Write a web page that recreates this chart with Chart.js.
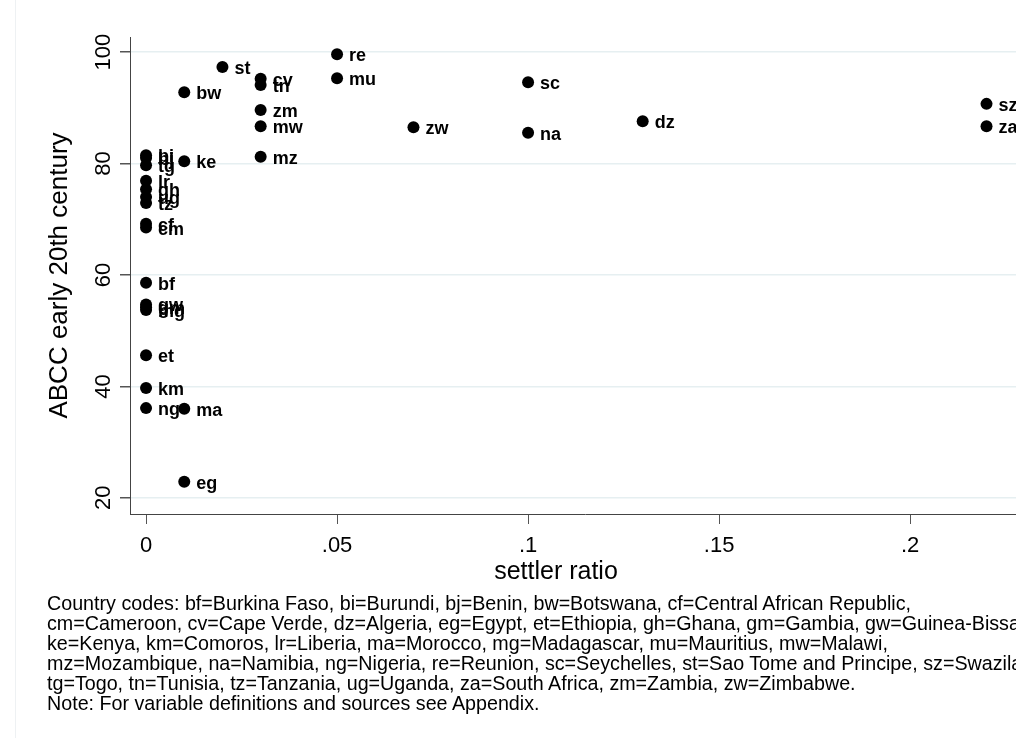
<!DOCTYPE html>
<html>
<head>
<meta charset="utf-8">
<script src="https://cdn.jsdelivr.net/npm/chart.js@4.4.0/dist/chart.umd.min.js"></script>
<style>
  html, body { margin: 0; padding: 0; background: #fff; overflow: hidden; }
  #wrap { position: relative; width: 1016px; height: 738px; overflow: hidden; }
  #chart { position: absolute; left: 0; top: 0; }
  #note {
    position: absolute; left: 47px; top: 593px;
    font: 19.7px "Liberation Sans", Arial, sans-serif; line-height: 20px;
    white-space: nowrap; color: #000;
  }
</style>
</head>
<body>
<div id="wrap">
  <canvas id="chart" width="1100" height="738"></canvas>
  <div id="note">
    Country codes: bf=Burkina Faso, bi=Burundi, bj=Benin, bw=Botswana, cf=Central African Republic,<br>
    cm=Cameroon, cv=Cape Verde, dz=Algeria, eg=Egypt, et=Ethiopia, gh=Ghana, gm=Gambia, gw=Guinea-Bissau,<br>
    ke=Kenya, km=Comoros, lr=Liberia, ma=Morocco, mg=Madagascar, mu=Mauritius, mw=Malawi,<br>
    mz=Mozambique, na=Namibia, ng=Nigeria, re=Reunion, sc=Seychelles, st=Sao Tome and Principe, sz=Swaziland,<br>
    tg=Togo, tn=Tunisia, tz=Tanzania, ug=Uganda, za=South Africa, zm=Zambia, zw=Zimbabwe.<br>
    Note: For variable definitions and sources see Appendix.
  </div>
</div>
<script>
// Data
const codes   = ['bf', 'bi', 'bj', 'bw', 'cf', 'cm', 'cv', 'dz', 'eg', 'et', 'gh', 'gm',
                 'gw', 'ke', 'km', 'lr', 'ma', 'mg', 'mu', 'mw', 'mz', 'na', 'ng', 're',
                 'sc', 'st', 'sz', 'tg', 'tn', 'tz', 'ug', 'za', 'zm', 'zw'];
const settler = [0, 0, 0, 0.01, 0, 0, 0.03, 0.13, 0.01, 0, 0, 0,
                 0, 0.01, 0, 0, 0.01, 0, 0.05, 0.03, 0.03, 0.1, 0, 0.05,
                 0.1, 0.02, 0.22, 0, 0.03, 0, 0, 0.22, 0.03, 0.07];
const abcc    = [58.6, 81.5, 81.0, 92.8, 69.2, 68.5, 95.2, 87.6, 22.9, 45.6, 75.4, 54.2,
                 54.7, 80.4, 39.7, 76.9, 36.0, 53.7, 95.3, 86.7, 81.2, 85.5, 36.1, 99.6,
                 94.6, 97.3, 90.7, 79.7, 94.1, 72.9, 74.0, 86.7, 89.6, 86.5];
const xTicks      = [0, 0.05, 0.1, 0.15, 0.2];
const xTickLabels = ['0', '.05', '.1', '.15', '.2'];
const yTicks      = [20, 40, 60, 80, 100];
const yTickLabels = ['20', '40', '60', '80', '100'];
const xTitle = 'settler ratio';

const FONT = '"Liberation Sans", Arial, sans-serif';

// marker labels to the right of each dot
const pointLabels = {
  id: 'pointLabels',
  afterDatasetsDraw(chart) {
    const ctx = chart.ctx;
    const meta = chart.getDatasetMeta(0);
    ctx.save();
    ctx.font = 'bold 18px ' + FONT;
    ctx.fillStyle = '#000';
    ctx.textAlign = 'left';
    ctx.textBaseline = 'alphabetic';
    meta.data.forEach((pt, i) => {
      ctx.fillText(codes[i], pt.x + 12, pt.y + 7);
    });
    ctx.restore();
  }
};

// Stata style vertical tick labels on the y axis, the x title, faint outer frame
const axisText = {
  id: 'axisText',
  beforeDraw(chart) {
    const ctx = chart.ctx;
    ctx.save();
    ctx.strokeStyle = '#eef1f3';
    ctx.lineWidth = 1;
    ctx.beginPath();
    ctx.moveTo(15.5, 0);
    ctx.lineTo(15.5, 738);
    ctx.stroke();
    ctx.restore();
  },
  afterDraw(chart) {
    const ctx = chart.ctx;
    const y = chart.scales.y;
    ctx.save();
    ctx.font = '22px ' + FONT;
    ctx.fillStyle = '#000';
    ctx.textAlign = 'center';
    ctx.textBaseline = 'middle';
    yTicks.forEach((v, i) => {
      ctx.save();
      ctx.translate(104, y.getPixelForValue(v));
      ctx.rotate(-Math.PI / 2);
      ctx.fillText(yTickLabels[i], 0, 0);
      ctx.restore();
    });
    ctx.font = '25px ' + FONT;
    ctx.textBaseline = 'alphabetic';
    ctx.fillText(xTitle, 556, 579);
    ctx.restore();
  }
};

new Chart(document.getElementById('chart'), {
  type: 'scatter',
  data: {
    datasets: [{
      data: settler.map((x, i) => ({ x: x, y: abcc[i] })),
      backgroundColor: '#000',
      borderWidth: 0,
      pointRadius: 6,
      pointHoverRadius: 6
    }]
  },
  options: {
    responsive: false,
    animation: false,
    events: [],
    layout: { padding: { left: 0, top: 37, right: 60, bottom: 154 } },
    plugins: { legend: { display: false }, tooltip: { enabled: false } },
    scales: {
      x: {
        type: 'linear',
        min: -0.0042,
        max: 0.234,
        afterBuildTicks: s => { s.ticks = xTicks.map(v => ({ value: v })); },
        afterFit: s => { s.height = 70; },
        ticks: {
          callback: (v, i) => xTickLabels[i],
          font: { family: FONT, size: 22 },
          color: '#000',
          padding: 9,
          maxRotation: 0,
          autoSkip: false
        },
        grid: { drawOnChartArea: false, tickLength: 10, tickColor: '#555' },
        border: { color: '#444', width: 1 }
      },
      y: {
        type: 'linear',
        min: 17.1,
        max: 102.7,
        afterBuildTicks: s => { s.ticks = yTicks.map(v => ({ value: v })); },
        afterFit: s => { s.width = 130; },
        ticks: { display: false },
        grid: { color: '#e6eff1', lineWidth: 1.5, tickLength: 10, tickColor: '#555' },
        border: { color: '#444', width: 1 },
        title: {
          display: true,
          text: 'ABCC early 20th century',
          font: { family: FONT, size: 26, lineHeight: 1 },
          color: '#000',
          padding: { top: 47, bottom: 0 }
        }
      }
    }
  },
  plugins: [pointLabels, axisText]
});
</script>
</body>
</html>
